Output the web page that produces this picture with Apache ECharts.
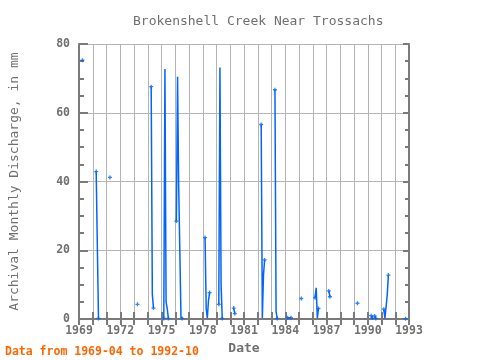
<!DOCTYPE html>
<html>
<head>
<meta charset="utf-8">
<script src="https://cdn.jsdelivr.net/npm/echarts@6/dist/echarts.min.js"></script>
<style>html,body{margin:0;padding:0;background:#fff;}#c{width:480px;height:360px;}</style>
</head>
<body>
<div id="c"></div>
<script>
// Each segment: first month and consecutive monthly values (mm)
const segStarts = ['1969-04','1970-04','1971-04','1973-04','1974-04','1975-03','1976-02','1978-03','1979-03','1980-04','1982-04','1983-04','1984-03','1985-03','1986-03','1987-03','1989-04','1990-04','1990-07','1991-03','1992-10'];
const segValues = [
  [75.3],
  [42.9, 21.5, 0.2],
  [41.2],
  [4.3],
  [67.6, 7.2, 3.2],
  [0.2, 72.7, 5.0, 3.0, 0.2],
  [28.5, 70.5, 38.6, 19.7, 0.5, 0.2],
  [23.7, 3.0, 0.3, 5.4, 7.7],
  [4.3, 73.2, 10.0, 0.2],
  [3.2, 1.6],
  [56.6, 0.3, 12.8, 17.2],
  [66.7, 2.2, 0.2],
  [0.4, 0.3, 0.3, 0.4],
  [6.0],
  [6.2, 9.1, 0.3, 3.1],
  [8.2, 6.5],
  [4.6],
  [1.0, 0.3],
  [0.9, 0.2],
  [2.9, 0.2, 0.2, 7.0, 12.8],
  [0.1]
];
const yearTicks = [1969, 1972, 1975, 1978, 1981, 1984, 1987, 1990, 1993];

function toX(ym) { const p = ym.split('-').map(Number); return p[0] + (p[1] - 1) / 12; }
const lineData = [];
const endData = [];
segStarts.forEach(function (s, k) {
  const x0 = toX(s);
  const vals = segValues[k];
  vals.forEach(function (v, i) { lineData.push([x0 + i / 12, v]); });
  lineData.push([x0 + (vals.length - 0.5) / 12, '-']);
  endData.push([x0, vals[0]]);
  if (vals.length > 1) endData.push([x0 + (vals.length - 1) / 12, vals[vals.length - 1]]);
});

const gray = '#707070';
const axisCol = '#7a7a7a';
const gridCol = '#b4b4b4';
const mono = 'DejaVu Sans Mono';
const plus = 'path://M1,0H2V1H3V2H2V3H1V2H0V1H1Z';

const chart = echarts.init(document.getElementById('c'), null, {renderer: 'canvas'});
chart.setOption({
  animation: false,
  backgroundColor: '#fff',
  title: {
    text: 'Brokenshell Creek Near Trossachs',
    left: 128, top: 10,
    textStyle: {color: gray, fontFamily: mono, fontSize: 13, fontWeight: 'normal'}
  },
  grid: {left: 79, right: 71, top: 44, bottom: 38},
  xAxis: [{
    type: 'value', min: 1969, max: 1993, interval: 1, position: 'bottom',
    name: 'Date', nameLocation: 'middle', nameGap: 20,
    nameTextStyle: {color: gray, fontFamily: mono, fontSize: 13, fontWeight: 'bold'},
    axisLine: {show: true, lineStyle: {color: axisCol, width: 2}},
    axisTick: {show: true, inside: true, length: 7, lineStyle: {color: axisCol, width: 2}},
    axisLabel: {color: gray, fontFamily: mono, fontSize: 11.5, fontWeight: 'bold', margin: 6,
      formatter: function (v) { return yearTicks.indexOf(v) >= 0 ? String(v) : ''; }},
    splitLine: {show: true, lineStyle: {color: gridCol, width: 1}}
  }, {
    type: 'value', min: 1969, max: 1993, interval: 1, position: 'top',
    axisLine: {show: true, lineStyle: {color: axisCol, width: 2}},
    axisTick: {show: true, inside: true, length: 6, lineStyle: {color: axisCol, width: 2}},
    axisLabel: {show: false}, splitLine: {show: false}
  }],
  yAxis: [{
    type: 'value', min: 0, max: 80, interval: 20, position: 'left',
    name: 'Archival Monthly Discharge, in mm', nameLocation: 'middle', nameGap: 58,
    nameTextStyle: {color: gray, fontFamily: mono, fontSize: 13},
    axisLine: {show: true, lineStyle: {color: axisCol, width: 2}},
    axisTick: {show: true, inside: true, length: 9, lineStyle: {color: axisCol, width: 2}},
    minorTick: {show: true, splitNumber: 4, length: 5, lineStyle: {color: axisCol, width: 2}},
    axisLabel: {color: gray, fontFamily: mono, fontSize: 11.5, fontWeight: 'bold', margin: 9},
    splitLine: {show: true, lineStyle: {color: gridCol, width: 1}}
  }, {
    type: 'value', min: 0, max: 80, interval: 20, position: 'right',
    axisLine: {show: true, lineStyle: {color: axisCol, width: 2}},
    axisTick: {show: true, inside: true, length: 6, lineStyle: {color: axisCol, width: 2}},
    minorTick: {show: true, splitNumber: 4, length: 4, lineStyle: {color: axisCol, width: 2}},
    axisLabel: {show: false}, splitLine: {show: false}
  }],
  graphic: [{
    type: 'text', left: 5, top: 346,
    style: {text: 'Data from 1969-04 to 1992-10', fill: '#ff6600', font: 'bold 11.5px "DejaVu Sans Mono"'}
  }],
  series: [{
    type: 'line', data: lineData, showSymbol: false, connectNulls: false,
    lineStyle: {color: '#0064ff', width: 1.5}, z: 3
  }, {
    type: 'scatter', data: endData, symbol: plus, symbolSize: 4,
    itemStyle: {color: '#0064ff'}, z: 4
  }]
});
</script>
</body>
</html>
